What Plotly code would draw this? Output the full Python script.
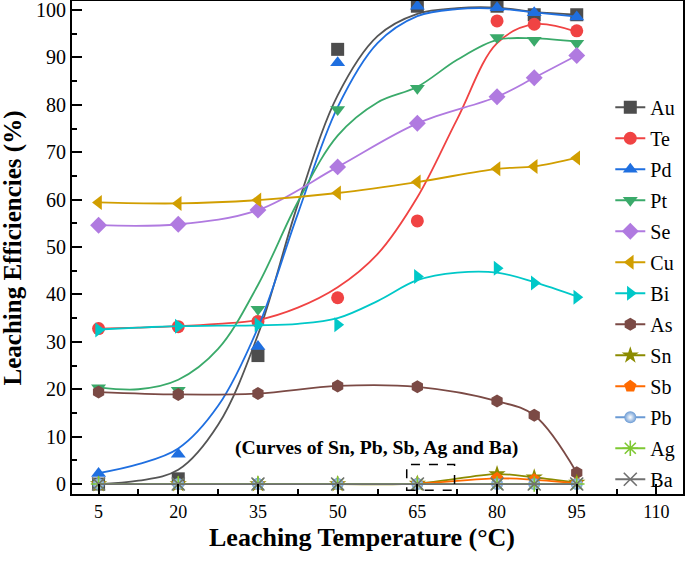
import plotly.graph_objects as go

# measured temperatures (°C)
temps = [5, 20, 35, 50, 65, 80, 87, 95]
curve_x = [5, 12.5, 20, 27.5, 35, 42.5, 50, 57.5, 65, 72.5, 80, 87, 95]

# measured leaching efficiencies (%)
au = [0.0, 1.1, 27.1, 91.7, 100.8, 100.8, 99.0, 99.0]
te = [32.8, 33.2, 34.3, 39.3, 55.5, 97.7, 97.0, 95.6]
pd_ = [2.2, 6.3, 29.0, 88.9, 100.8, 100.5, 99.4, 98.5]
pt = [20.3, 19.8, 36.9, 79.0, 83.5, 94.2, 93.6, 93.0]
se = [54.6, 54.8, 57.8, 66.9, 76.1, 81.7, 85.7, 90.4]
cu = [59.4, 59.2, 59.9, 61.4, 63.7, 66.5, 67.0, 68.8]
bi = [32.5, 33.3, 33.6, 33.6, 43.8, 45.5, 42.4, 39.4]
as_ = [19.4, 18.9, 19.1, 20.7, 20.5, 17.5, 14.5, 2.4]
sn = [0.0, 0.0, 0.0, 0.0, 0.1, 2.1, 1.4, 0.3]
sb = [0.0, 0.0, 0.0, 0.0, 0.1, 1.2, 0.9, 0.2]
pb = [0.0, 0.0, 0.0, 0.0, 0.0, 0.0, 0.0, 0.0]
ag = [0.0, 0.0, 0.0, 0.0, 0.0, 0.0, 0.0, 0.0]
ba = [0.0, 0.0, 0.0, 0.0, 0.0, 0.0, 0.0, 0.0]

# fitted curves (at curve_x)
au_fit = [0.0, 0.7, 3.0, 12.5, 31.5, 59.0, 82.0, 94.5, 99.2, 100.4, 100.5, 99.6, 99.0]
pd_fit = [2.3, 4.2, 7.5, 16.5, 33.0, 57.0, 79.5, 93.0, 98.7, 100.2, 100.3, 99.5, 98.6]
pt_fit = [20.4, 20.0, 22.0, 28.5, 42.0, 59.5, 73.5, 80.5, 83.8, 89.5, 93.7, 94.0, 93.3]
te_fit = [32.8, 33.0, 33.3, 33.8, 34.6, 37.2, 41.5, 48.5, 60.5, 77.0, 93.0, 97.0, 95.4]
bi_fit = [32.6, 33.0, 33.3, 33.4, 33.5, 33.8, 35.0, 38.6, 43.0, 44.6, 44.6, 42.6, 39.6]

names = ["Au", "Te", "Pd", "Pt", "Se", "Cu", "Bi", "As", "Sn", "Sb", "Pb", "Ag", "Ba"]
values = [au, te, pd_, pt, se, cu, bi, as_, sn, sb, pb, ag, ba]
fits = {"Au": au_fit, "Te": te_fit, "Pd": pd_fit, "Pt": pt_fit, "Bi": bi_fit}
colors = ["#4d4d4d", "#f04343", "#1f6fe0", "#3aaa6a", "#b07ae0", "#d19e00",
          "#00c8c8", "#7b4a45", "#8b8b00", "#ff6a00", "#6a9ad4", "#7ec832", "#707070"]
symbols = ["square", "circle", "triangle-up", "triangle-down", "diamond",
           "triangle-left", "triangle-right", "hexagon", "star", "pentagon",
           "circle", "asterisk-open", "x-thin-open"]
line_colors = {"Au": "#555555"}

fig = go.Figure()
for name, vals, col, sym in zip(names, values, colors, symbols):
    lc = line_colors.get(name, col)
    marker = dict(symbol=sym, size=13, color=col, line=dict(width=0, color=col))
    if sym in ("asterisk-open", "x-thin-open"):
        marker = dict(symbol=sym, size=13, color=col, line=dict(width=1.6, color=col))
    if name == "Pb":
        marker = dict(symbol="circle", size=12, color=col,
                      gradient=dict(type="radial", color="#ffffff"),
                      line=dict(width=0))
    if name in fits:
        fig.add_trace(go.Scatter(x=curve_x, y=fits[name], mode="lines",
                                 line=dict(color=lc, width=1.8, shape="spline"),
                                 legendgroup=name, showlegend=False, hoverinfo="skip"))
        fig.add_trace(go.Scatter(x=temps, y=vals, mode="markers", marker=marker,
                                 legendgroup=name, showlegend=False, name=name))
        fig.add_trace(go.Scatter(x=[None], y=[None], mode="lines+markers", marker=marker,
                                 line=dict(color=lc, width=1.8),
                                 legendgroup=name, name=name))
    else:
        fig.add_trace(go.Scatter(x=temps, y=vals, mode="lines+markers", marker=marker,
                                 line=dict(color=lc, width=1.8, shape="spline"),
                                 legendgroup=name, name=name))

serif = "Liberation Serif"
fig.add_annotation(x=57.3, y=7.7, xref="x", yref="y", showarrow=False,
                   text="<b>(Curves of Sn, Pb, Sb, Ag and Ba)</b>",
                   font=dict(family=serif, size=19.7, color="black"))
fig.add_shape(type="rect", xref="x", yref="y", x0=63, x1=72, y0=-1.3, y1=4.1,
              line=dict(color="black", width=1.5, dash="dash"))
fig.add_annotation(x=0.474, y=-0.0886, xref="paper", yref="paper", showarrow=False,
                   xanchor="center", yanchor="middle",
                   text="<b>Leaching Temperature (°C)</b>",
                   font=dict(family=serif, size=26, color="black"))
fig.add_annotation(x=-0.0966, y=0.5, xref="paper", yref="paper", showarrow=False,
                   xanchor="center", yanchor="middle", textangle=-90,
                   text="<b>Leaching Efficiencies (%)</b>",
                   font=dict(family=serif, size=25, color="black"))

axis_common = dict(showline=True, linecolor="black", linewidth=2, mirror=True,
                   ticks="inside", ticklen=10, tickwidth=2, tickcolor="black",
                   showgrid=False, zeroline=False, automargin=False,
                   ticklabeloverflow="allow")
fig.update_xaxes(range=[0, 115], tick0=5, dtick=15,
                 tickfont=dict(family=serif, size=18, color="black"),
                 minor=dict(tick0=5, dtick=7.5, ticks="inside", ticklen=5,
                            tickwidth=2, tickcolor="black"),
                 **axis_common)
fig.update_yaxes(range=[-2.1, 101.9], tick0=0, dtick=10,
                 tickfont=dict(family=serif, size=20, color="black"),
                 minor=dict(tick0=0, dtick=5, ticks="inside", ticklen=5,
                            tickwidth=2, tickcolor="black"),
                 **axis_common)

fig.update_layout(
    width=685, height=570,
    margin=dict(l=72, r=2, t=1, b=76, autoexpand=False),
    paper_bgcolor="white", plot_bgcolor="white",
    legend=dict(x=0.881, y=0.824, xanchor="left", yanchor="top",
                bgcolor="rgba(0,0,0,0)", traceorder="grouped", tracegroupgap=2,
                font=dict(family=serif, size=20, color="black")),
)

fig.write_html("out.html", config={"displayModeBar": False},
               post_script="document.body.style.margin='0';document.body.style.overflow='hidden';")
